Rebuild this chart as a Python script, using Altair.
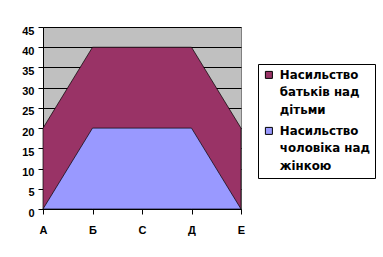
import altair as alt
import pandas as pd

categories = ["А", "Б", "С", "Д", "Е"]
parents_values = [20, 40, 40, 40, 20]
spouse_values = [0, 20, 20, 20, 0]
series_names = ["Насильство\nбатьків над\nдітьми", "Насильство\nчоловіка над\nжінкою"]
series_colors = ["#993366", "#9999FF"]
y_ticks = [0, 5, 10, 15, 20, 25, 30, 35, 40, 45]

df = pd.DataFrame({
    "cat": categories * 2,
    "value": parents_values + spouse_values,
    "series": [series_names[0]] * len(categories) + [series_names[1]] * len(categories),
})

FONT = "Liberation Sans"
LEGEND_FONT = "DejaVu Sans"

x = alt.X("cat:N", sort=categories,
          scale=alt.Scale(type="point", padding=0),
          axis=alt.Axis(title=None, labelAngle=0, labelPadding=6, grid=False))
y = alt.Y("value:Q", scale=alt.Scale(domain=[0, 45], nice=False, zero=True),
          axis=alt.Axis(title=None, values=y_ticks, grid=True, gridColor="black",
                        gridWidth=1, gridOpacity=1, labelPadding=4))
color = alt.Color("series:N",
                  scale=alt.Scale(domain=series_names, range=series_colors),
                  legend=alt.Legend(title=None, orient="none", legendX=215, legendY=37,
                                    labelExpr="split(datum.label, '\\n')",
                                    symbolType="square", symbolSize=49,
                                    symbolStrokeColor="black", symbolStrokeWidth=1,
                                    strokeColor="black", fillColor="white",
                                    padding=5, labelBaseline="alphabetic",
                                    labelFont=LEGEND_FONT, labelFontSize=11.8,
                                    labelFontWeight="bold", labelColor="black",
                                    rowPadding=8, labelOffset=5, labelLimit=300))

base = alt.Chart(df).mark_area(stroke="black", strokeWidth=0.7, opacity=1).encode(
    x=x, y=y, color=color)

layer1 = base.transform_filter(alt.FieldEqualPredicate(field="series", equal=series_names[0]))
layer2 = base.transform_filter(alt.FieldEqualPredicate(field="series", equal=series_names[1]))

chart = alt.layer(layer1, layer2).properties(
    width=198, height=182,
    autosize=alt.AutoSizeParams(type="none"),
    padding={"left": 43, "top": 27, "right": 142, "bottom": 48},
    background="white",
).configure(
    view=alt.ViewConfig(fill="#C0C0C0", stroke="#808080", strokeWidth=1),
    axis=alt.AxisConfig(labelFont=FONT, labelFontSize=11, labelFontWeight="bold",
                        labelColor="black", domainColor="black", tickColor="black",
                        tickSize=5, domainWidth=1, tickWidth=1),
    style={"guide-label": {"dy": 4, "lineHeight": 17.5}},
)

chart.save("out.html", embed_options={"renderer": "svg", "actions": False})
